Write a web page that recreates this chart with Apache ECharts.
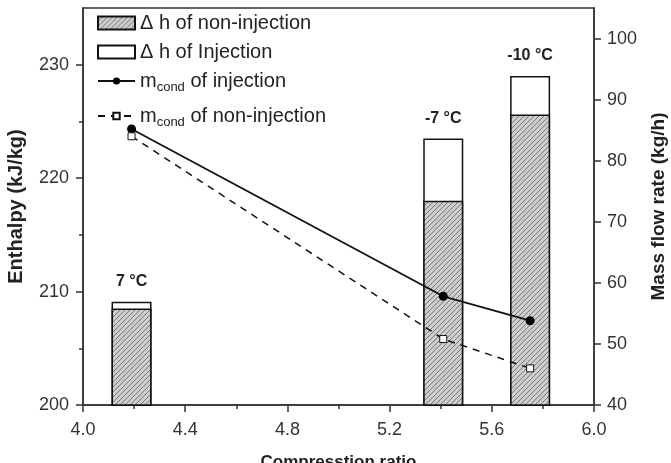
<!DOCTYPE html>
<html>
<head>
<meta charset="utf-8">
<script src="https://cdn.jsdelivr.net/npm/echarts@6/dist/echarts.min.js"></script>
<style>
html,body{margin:0;padding:0;background:#fff;}
#c{width:671px;height:463px;}
</style>
</head>
<body>
<div id="c"></div>
<script>
// ---- data ----
var ratios = [4.19, 5.41, 5.75];                 // compression ratio of each condition
var conditions = ['7 °C', '-7 °C', '-10 °C'];    // ambient temperature labels
var dhNonInjection = [208.5, 218.0, 225.6];      // enthalpy, non-injection (kJ/kg)
var dhInjection = [209.1, 223.5, 229.0];         // enthalpy, injection (kJ/kg)
var mcondInjection = [85.2, 57.8, 53.8];         // mass flow rate, injection (kg/h)
var mcondNonInjection = [84.0, 50.8, 46.0];      // mass flow rate, non-injection (kg/h)
var xTicks = [4.0, 4.4, 4.8, 5.2, 5.6, 6.0];
var leftTicks = [200, 210, 220, 230];
var leftMinor = [205, 215, 225];
var rightTicks = [40, 50, 60, 70, 80, 90, 100];

function pairs(xs, ys) { return xs.map(function (x, i) { return [x, ys[i]]; }); }

// hatch pattern
var pc = document.createElement('canvas');
var s = 5;
pc.width = s; pc.height = s;
var g = pc.getContext('2d');
g.fillStyle = '#cdcdcd';
g.fillRect(0, 0, s, s);
g.strokeStyle = '#7a7a7a';
g.lineWidth = 1;
g.beginPath();
g.moveTo(-1, s + 1); g.lineTo(s + 1, -1);
g.moveTo(-1, 1); g.lineTo(1, -1);
g.moveTo(s - 1, s + 1); g.lineTo(s + 1, s - 1);
g.stroke();

var axisCol = '#333';
var font = 'Arial, "Liberation Sans", sans-serif';
var legendText = {
  fontSize: 20, color: '#222', fontFamily: font,
  rich: {
    m: {fontSize: 20, color: '#222', fontFamily: font},
    sub: {fontSize: 13, color: '#222', fontFamily: font, padding: [12, 0, 0, 0]},
    t: {fontSize: 20, color: '#222', fontFamily: font}
  }
};
function legendFmt(n) {
  if (n.indexOf('mcond') === 0) return '{m|m}{sub|cond}{t|' + n.slice(5) + '}';
  return n;
}

var chart = echarts.init(document.getElementById('c'), null, {renderer: 'canvas'});
chart.setOption({
  animation: false,
  textStyle: {fontFamily: font},
  grid: {left: 83, right: 77, top: 8, bottom: 58, show: true, borderColor: axisCol, borderWidth: 1.5,
         backgroundColor: 'transparent', outerBoundsMode: 'none', containLabel: false},
  legend: [
    {
      orient: 'vertical', left: 92, top: 8, itemWidth: 37, itemHeight: 13, itemGap: 9, icon: 'rect',
      data: ['Δ h of non-injection', 'Δ h of Injection'],
      textStyle: legendText, formatter: legendFmt
    },
    {
      orient: 'vertical', left: 92, top: 66, itemWidth: 37, itemHeight: 9,
      data: ['mcond of injection'],
      textStyle: legendText, formatter: legendFmt
    },
    {
      orient: 'vertical', left: 92, top: 101, itemWidth: 37, itemHeight: 8,
      data: ['mcond of non-injection'],
      textStyle: legendText, formatter: legendFmt
    }
  ],
  xAxis: {
    type: 'value', min: 4.0, max: 6.0, interval: 0.4,
    name: 'Compresstion ratio', nameLocation: 'middle', nameGap: 49,
    nameTextStyle: {fontSize: 17, fontWeight: 'bold', color: '#222'},
    axisLine: {show: true, lineStyle: {color: axisCol, width: 1.5}},
    axisTick: {show: true, inside: false, length: 7, lineStyle: {color: axisCol, width: 1.5}, customValues: xTicks},
    minorTick: {show: true, splitNumber: 2, length: 4, lineStyle: {color: axisCol, width: 1.5}},
    axisLabel: {fontSize: 18, color: '#333', margin: 16, customValues: xTicks, formatter: function (v) { return v.toFixed(1); }},
    splitLine: {show: false}
  },
  yAxis: [
    {
      type: 'value', min: 200, max: 235, position: 'left',
      name: 'Enthalpy (kJ/kg)', nameLocation: 'middle', nameGap: 57, nameRotate: 90,
      nameTextStyle: {fontSize: 20, fontWeight: 'bold', color: '#222'},
      axisLine: {show: true, lineStyle: {color: axisCol, width: 1.5}},
      axisTick: {show: true, length: 7, lineStyle: {color: axisCol, width: 1.5}, customValues: leftTicks},
      axisLabel: {fontSize: 18, color: '#333', margin: 14, customValues: leftTicks},
      splitLine: {show: false}
    },
    {
      type: 'value', min: 200, max: 235, position: 'left',
      axisLine: {show: false},
      axisTick: {show: true, length: 4, lineStyle: {color: axisCol, width: 1.5}, customValues: leftMinor},
      axisLabel: {show: false},
      splitLine: {show: false}
    },
    {
      type: 'value', min: 40, max: 105, position: 'right',
      name: 'Mass flow rate (kg/h)', nameLocation: 'middle', nameGap: 55, nameRotate: 90,
      nameTextStyle: {fontSize: 19, fontWeight: 'bold', color: '#222'},
      axisLine: {show: true, lineStyle: {color: axisCol, width: 1.5}},
      axisTick: {show: true, length: 7, lineStyle: {color: axisCol, width: 1.5}, customValues: rightTicks},
      axisLabel: {fontSize: 18, color: '#333', margin: 13, customValues: rightTicks},
      splitLine: {show: false}
    }
  ],
  series: [
    {
      name: 'Δ h of Injection', type: 'bar', xAxisIndex: 0, yAxisIndex: 0,
      barWidth: 40, barGap: '-100%', clip: true, z: 2,
      data: pairs(ratios, dhInjection),
      itemStyle: {color: '#fff', borderColor: '#111', borderWidth: 1.5},
      label: {
        show: true, position: 'top', distance: 12, fontSize: 16, fontWeight: 'bold', color: '#222',
        formatter: function (p) { return conditions[p.dataIndex]; }
      }
    },
    {
      name: 'Δ h of non-injection', type: 'bar', xAxisIndex: 0, yAxisIndex: 0,
      barWidth: 40, barGap: '-100%', clip: true, z: 3,
      data: pairs(ratios, dhNonInjection),
      itemStyle: {color: {image: pc, repeat: 'repeat'}, borderColor: '#111', borderWidth: 1.5}
    },
    {
      name: 'mcond of injection', type: 'line', xAxisIndex: 0, yAxisIndex: 2, z: 5,
      data: pairs(ratios, mcondInjection),
      symbol: 'circle', symbolSize: 9,
      itemStyle: {color: '#000'},
      lineStyle: {color: '#111', width: 1.8}
    },
    {
      name: 'mcond of non-injection', type: 'line', xAxisIndex: 0, yAxisIndex: 2, z: 5,
      data: pairs(ratios, mcondNonInjection),
      symbol: 'rect', symbolSize: 7,
      itemStyle: {color: '#fff', borderColor: '#111', borderWidth: 1},
      lineStyle: {color: '#111', width: 1.5, type: [7, 6]}
    }
  ]
});
</script>
</body>
</html>
